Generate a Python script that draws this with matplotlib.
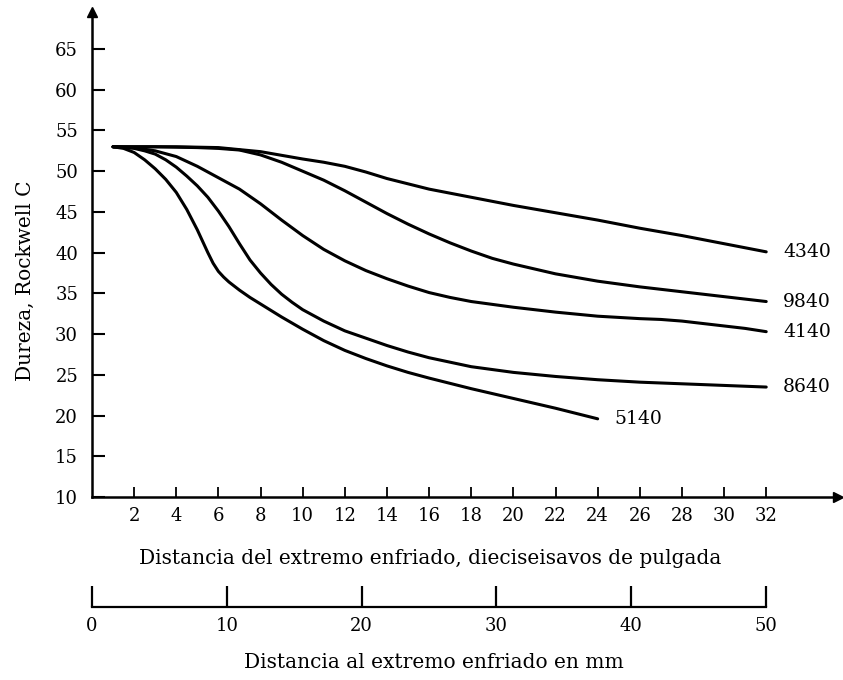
import matplotlib
matplotlib.use("Agg")
from matplotlib import pyplot as plt

# Jominy curves: hardness (Rockwell C) vs distance from quenched end (1/16 in)
x_4340 = [1, 4, 6, 8, 10, 11, 12, 13, 14, 16, 18, 20, 22, 24, 26, 28, 30, 32]
y_4340 = [53, 53, 52.9, 52.4, 51.5, 51.1, 50.6, 49.9, 49.1, 47.8, 46.8, 45.8, 44.9, 44.0,
          43.0, 42.1, 41.1, 40.1]

x_9840 = [1, 3, 5, 6, 7, 8, 9, 10, 11, 12, 13, 14, 15, 16, 17, 18, 19, 20, 21, 22, 24, 26,
          28, 30, 32]
y_9840 = [53, 53, 52.9, 52.8, 52.6, 52.0, 51.1, 50.0, 48.9, 47.6, 46.2, 44.8, 43.5, 42.3,
          41.2, 40.2, 39.3, 38.6, 38.0, 37.4, 36.5, 35.8, 35.2, 34.6, 34.0]

x_4140 = [1, 2, 3, 4, 5, 6, 7, 8, 9, 10, 11, 12, 13, 14, 15, 16, 17, 18, 20, 22, 24, 26, 27,
          28, 29, 30, 31, 32]
y_4140 = [53, 52.9, 52.5, 51.8, 50.6, 49.2, 47.8, 46.0, 44.0, 42.1, 40.4, 39.0, 37.8, 36.8,
          35.9, 35.1, 34.5, 34.0, 33.3, 32.7, 32.2, 31.9, 31.8, 31.6, 31.3, 31.0, 30.7, 30.3]

x_8640 = [1, 2, 2.5, 3, 3.5, 4, 4.5, 5, 5.5, 6, 6.5, 7, 7.5, 8, 8.5, 9, 9.5, 10, 11, 12, 13,
          14, 15, 16, 18, 20, 22, 24, 26, 28, 30, 32]
y_8640 = [53, 52.8, 52.5, 52.1, 51.4, 50.5, 49.4, 48.2, 46.8, 45.1, 43.2, 41.1, 39.1, 37.5,
          36.1, 34.9, 33.9, 33.0, 31.6, 30.4, 29.5, 28.6, 27.8, 27.1, 26.0, 25.3, 24.8, 24.4,
          24.1, 23.9, 23.7, 23.5]

x_5140 = [1, 1.5, 2, 2.5, 3, 3.5, 4, 4.5, 5, 5.25, 5.5, 5.75, 6, 6.25, 6.5, 7, 7.5, 8, 9, 10,
          11, 12, 13, 14, 15, 16, 18, 20, 22, 24]
y_5140 = [53, 52.8, 52.3, 51.4, 50.3, 49.0, 47.4, 45.3, 42.8, 41.4, 40.0, 38.7, 37.7, 37.0,
          36.4, 35.4, 34.5, 33.7, 32.1, 30.6, 29.2, 28.0, 27.0, 26.1, 25.3, 24.6, 23.3, 22.1,
          20.9, 19.6]

curves = [("4340", x_4340, y_4340), ("9840", x_9840, y_9840), ("4140", x_4140, y_4140),
          ("8640", x_8640, y_8640), ("5140", x_5140, y_5140)]

x_ticks = list(range(2, 33, 2))
y_ticks = list(range(10, 66, 5))
mm_ticks = [0, 10, 20, 30, 40, 50]

plt.rcParams['font.family'] = 'DejaVu Serif'

fig = plt.figure(figsize=(8.43, 6.8), dpi=100)
ax = fig.add_axes([0.1091, 0.2691, 0.8848, 0.7127])

for name, xs, ys in curves:
    ax.plot(xs, ys, color='black', lw=2.2, solid_capstyle='round', solid_joinstyle='round')
    ax.text(xs[-1] + 0.8, ys[-1], name, ha='left', va='center', fontsize=13.5)

ax.set_xlim(0, 35.4)
ax.set_ylim(10, 69.5)
ax.set_xticks(x_ticks)
ax.set_yticks(y_ticks)
ax.tick_params(axis='y', direction='in', length=9, width=1.5, pad=10, labelsize=13)
ax.tick_params(axis='x', direction='in', length=7, width=1.3, pad=7, labelsize=13)
for s in ['top', 'right']:
    ax.spines[s].set_visible(False)
for s in ['left', 'bottom']:
    ax.spines[s].set_linewidth(1.8)

# arrow heads on the axes
ax.plot(1, 0, '>k', ms=7, transform=ax.transAxes, clip_on=False)
ax.plot(0, 1, '^k', ms=7, transform=ax.transAxes, clip_on=False)

fig.text(25 / 843, 1 - 281 / 680, 'Dureza, Rockwell C', rotation=90,
         ha='center', va='center', fontsize=14.5)
fig.text(430 / 843, 1 - 559 / 680, 'Distancia del extremo enfriado, dieciseisavos de pulgada',
         ha='center', va='center', fontsize=14.5)

# second scale in mm
ax2 = fig.add_axes([0.1091, (680 - 607) / 680, 674 / 843, 0.001])
ax2.set_xlim(0, 50)
ax2.set_xticks(mm_ticks)
ax2.set_yticks([])
ax2.patch.set_visible(False)
for s in ['top', 'right', 'left']:
    ax2.spines[s].set_visible(False)
ax2.spines['bottom'].set_linewidth(1.6)
ax2.tick_params(axis='x', direction='in', length=15, width=1.6, pad=7, labelsize=13)

fig.text(434 / 843, 1 - 663 / 680, 'Distancia al extremo enfriado en mm',
         ha='center', va='center', fontsize=14.5)

fig.savefig('out.png', dpi=100)
